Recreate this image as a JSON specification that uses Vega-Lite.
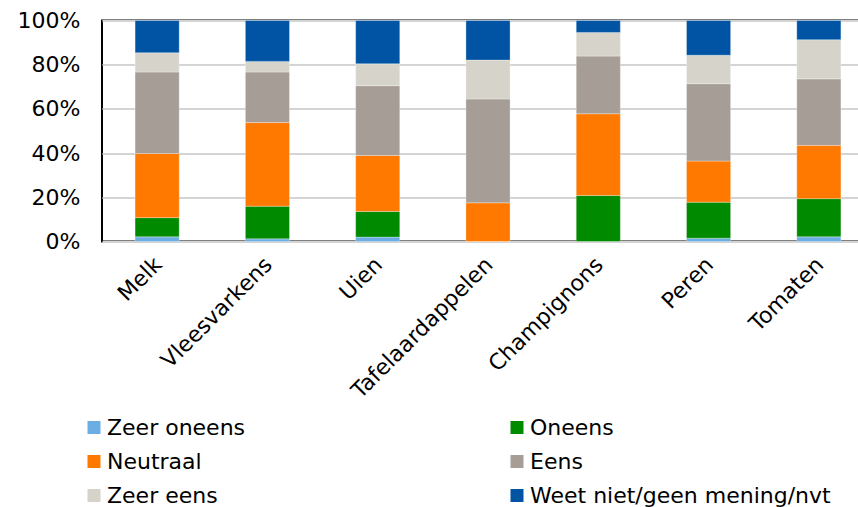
{
  "$schema": "https://vega.github.io/schema/vega-lite/v6.json",
  "autosize": "none",
  "padding": {"left": 102, "top": 20.5, "right": 0, "bottom": 265.5},
  "width": 772,
  "height": 221,
  "config": {
    "font": "DejaVu Sans",
    "view": {"stroke": "#000000", "strokeWidth": 2},
    "axis": {"labelFont": "DejaVu Sans", "labelColor": "#000000"}
  },
  "data": {
    "values": [
      {"product": "Melk", "answer": "Zeer oneens", "k": 1, "pct": 2.1},
      {"product": "Melk", "answer": "Oneens", "k": 2, "pct": 8.7},
      {"product": "Melk", "answer": "Neutraal", "k": 3, "pct": 29.0},
      {"product": "Melk", "answer": "Eens", "k": 4, "pct": 36.9},
      {"product": "Melk", "answer": "Zeer eens", "k": 5, "pct": 8.7},
      {"product": "Melk", "answer": "Weet niet/geen mening/nvt", "k": 6, "pct": 14.6},
      {"product": "Vleesvarkens", "answer": "Zeer oneens", "k": 1, "pct": 1.2},
      {"product": "Vleesvarkens", "answer": "Oneens", "k": 2, "pct": 14.8},
      {"product": "Vleesvarkens", "answer": "Neutraal", "k": 3, "pct": 37.8},
      {"product": "Vleesvarkens", "answer": "Eens", "k": 4, "pct": 22.9},
      {"product": "Vleesvarkens", "answer": "Zeer eens", "k": 5, "pct": 4.8},
      {"product": "Vleesvarkens", "answer": "Weet niet/geen mening/nvt", "k": 6, "pct": 18.5},
      {"product": "Uien", "answer": "Zeer oneens", "k": 1, "pct": 2.0},
      {"product": "Uien", "answer": "Oneens", "k": 2, "pct": 11.6},
      {"product": "Uien", "answer": "Neutraal", "k": 3, "pct": 25.3},
      {"product": "Uien", "answer": "Eens", "k": 4, "pct": 31.6},
      {"product": "Uien", "answer": "Zeer eens", "k": 5, "pct": 9.9},
      {"product": "Uien", "answer": "Weet niet/geen mening/nvt", "k": 6, "pct": 19.6},
      {"product": "Tafelaardappelen", "answer": "Zeer oneens", "k": 1, "pct": 0},
      {"product": "Tafelaardappelen", "answer": "Oneens", "k": 2, "pct": 0},
      {"product": "Tafelaardappelen", "answer": "Neutraal", "k": 3, "pct": 17.5},
      {"product": "Tafelaardappelen", "answer": "Eens", "k": 4, "pct": 47.0},
      {"product": "Tafelaardappelen", "answer": "Zeer eens", "k": 5, "pct": 17.6},
      {"product": "Tafelaardappelen", "answer": "Weet niet/geen mening/nvt", "k": 6, "pct": 17.9},
      {"product": "Champignons", "answer": "Zeer oneens", "k": 1, "pct": 0},
      {"product": "Champignons", "answer": "Oneens", "k": 2, "pct": 20.8},
      {"product": "Champignons", "answer": "Neutraal", "k": 3, "pct": 37.0},
      {"product": "Champignons", "answer": "Eens", "k": 4, "pct": 26.1},
      {"product": "Champignons", "answer": "Zeer eens", "k": 5, "pct": 10.7},
      {"product": "Champignons", "answer": "Weet niet/geen mening/nvt", "k": 6, "pct": 5.4},
      {"product": "Peren", "answer": "Zeer oneens", "k": 1, "pct": 1.5},
      {"product": "Peren", "answer": "Oneens", "k": 2, "pct": 16.3},
      {"product": "Peren", "answer": "Neutraal", "k": 3, "pct": 18.6},
      {"product": "Peren", "answer": "Eens", "k": 4, "pct": 35.0},
      {"product": "Peren", "answer": "Zeer eens", "k": 5, "pct": 12.9},
      {"product": "Peren", "answer": "Weet niet/geen mening/nvt", "k": 6, "pct": 15.7},
      {"product": "Tomaten", "answer": "Zeer oneens", "k": 1, "pct": 2.1},
      {"product": "Tomaten", "answer": "Oneens", "k": 2, "pct": 17.3},
      {"product": "Tomaten", "answer": "Neutraal", "k": 3, "pct": 24.1},
      {"product": "Tomaten", "answer": "Eens", "k": 4, "pct": 30.1},
      {"product": "Tomaten", "answer": "Zeer eens", "k": 5, "pct": 17.7},
      {"product": "Tomaten", "answer": "Weet niet/geen mening/nvt", "k": 6, "pct": 8.7}
    ]
  },
  "mark": {"type": "bar", "stroke": "#ffffff", "strokeWidth": 0.6, "strokeOpacity": 0.5},
  "encoding": {
    "x": {
      "field": "product",
      "type": "nominal",
      "sort": null,
      "scale": {"paddingInner": 0.6, "paddingOuter": 0.3},
      "axis": {
        "title": null,
        "labelAngle": -45,
        "labelFontSize": 22,
        "labelPadding": 12,
        "labelOffset": -6,
        "labelLimit": 400,
        "labelOverlap": false,
        "ticks": false,
        "domain": false
      }
    },
    "y": {
      "field": "pct",
      "type": "quantitative",
      "stack": "zero",
      "scale": {"domain": [0, 100], "nice": false},
      "axis": {
        "title": null,
        "values": [0, 20, 40, 60, 80, 100],
        "labelExpr": "datum.value + '%'",
        "labelFontSize": 22,
        "labelPadding": 22,
        "ticks": false,
        "domain": false,
        "gridColor": "#d4d4d4",
        "gridWidth": 1.8
      }
    },
    "order": {"field": "k", "type": "quantitative", "sort": "ascending"},
    "color": {
      "field": "answer",
      "type": "nominal",
      "scale": {
        "domain": ["Zeer oneens", "Oneens", "Neutraal", "Eens", "Zeer eens", "Weet niet/geen mening/nvt"],
        "range": ["#6aaee3", "#008a00", "#ff7800", "#a59d96", "#d6d3cb", "#0054a3"]
      },
      "legend": {
        "title": null,
        "orient": "none",
        "direction": "horizontal",
        "legendX": -19,
        "legendY": 396,
        "columns": 2,
        "columnPadding": 260,
        "rowPadding": 12,
        "symbolType": "square",
        "symbolSize": 169,
        "symbolStrokeWidth": 0,
        "symbolOpacity": 1,
        "labelFontSize": 22,
        "labelOffset": 2,
        "labelLimit": 400,
        "labelColor": "#000000"
      }
    }
  }
}
